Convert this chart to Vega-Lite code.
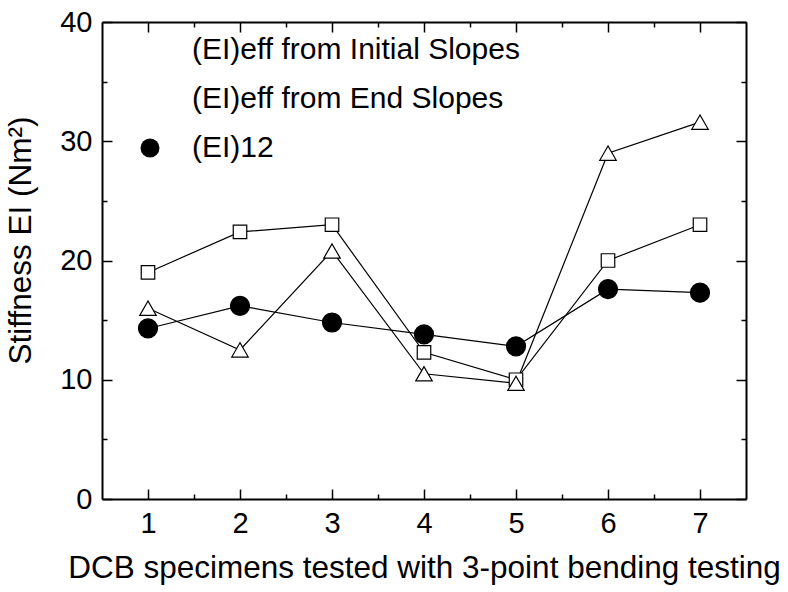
{
  "$schema": "https://vega.github.io/schema/vega-lite/v6.json",
  "width": 644,
  "height": 477,
  "autosize": {"type": "none"},
  "padding": {"left": 102, "top": 22, "right": 42, "bottom": 93},
  "background": "white",
  "config": {
    "view": {"stroke": null},
    "font": "Liberation Sans",
    "axis": {
      "grid": false,
      "domainColor": "black",
      "domainWidth": 2,
      "tickColor": "black",
      "tickWidth": 1.5,
      "tickSize": -10,
      "labelFont": "Liberation Sans",
      "labelFontSize": 29,
      "labelColor": "black",
      "labelPadding": 20,
      "titleFont": "Liberation Sans",
      "titleFontSize": 31.5,
      "titleFontWeight": "normal",
      "titleColor": "black"
    },
    "legend": {
      "title": null,
      "orient": "none",
      "legendX": 33,
      "legendY": 13,
      "padding": 0,
      "symbolStrokeColor": "black",
      "symbolStrokeWidth": 1.2,
      "labelFont": "Liberation Sans",
      "labelFontSize": 30,
      "labelColor": "black",
      "labelLimit": 0,
      "labelOffset": 27,
      "rowPadding": 19
    }
  },
  "data": {
    "values": [
      {"specimen": 1, "stiffness": 19.0, "series": "(EI)eff from Initial Slopes"},
      {"specimen": 2, "stiffness": 22.4, "series": "(EI)eff from Initial Slopes"},
      {"specimen": 3, "stiffness": 23.0, "series": "(EI)eff from Initial Slopes"},
      {"specimen": 4, "stiffness": 12.3, "series": "(EI)eff from Initial Slopes"},
      {"specimen": 5, "stiffness": 10.0, "series": "(EI)eff from Initial Slopes"},
      {"specimen": 6, "stiffness": 20.0, "series": "(EI)eff from Initial Slopes"},
      {"specimen": 7, "stiffness": 23.0, "series": "(EI)eff from Initial Slopes"},
      {"specimen": 1, "stiffness": 16.0, "series": "(EI)eff from End Slopes"},
      {"specimen": 2, "stiffness": 12.5, "series": "(EI)eff from End Slopes"},
      {"specimen": 3, "stiffness": 20.8, "series": "(EI)eff from End Slopes"},
      {"specimen": 4, "stiffness": 10.5, "series": "(EI)eff from End Slopes"},
      {"specimen": 5, "stiffness": 9.7, "series": "(EI)eff from End Slopes"},
      {"specimen": 6, "stiffness": 29.0, "series": "(EI)eff from End Slopes"},
      {"specimen": 7, "stiffness": 31.6, "series": "(EI)eff from End Slopes"},
      {"specimen": 1, "stiffness": 14.3, "series": "(EI)12"},
      {"specimen": 2, "stiffness": 16.2, "series": "(EI)12"},
      {"specimen": 3, "stiffness": 14.8, "series": "(EI)12"},
      {"specimen": 4, "stiffness": 13.8, "series": "(EI)12"},
      {"specimen": 5, "stiffness": 12.8, "series": "(EI)12"},
      {"specimen": 6, "stiffness": 17.6, "series": "(EI)12"},
      {"specimen": 7, "stiffness": 17.3, "series": "(EI)12"}
    ]
  },
  "layer": [
    {
      "mark": {"type": "line", "color": "black", "strokeWidth": 1.2},
      "encoding": {
        "x": {
          "field": "specimen",
          "type": "quantitative",
          "scale": {"domain": [0.5, 7.5], "nice": false, "zero": false},
          "axis": {
            "orient": "bottom",
            "title": "DCB specimens tested with 3-point bending testing",
            "titlePadding": 14,
            "values": [1, 1.5, 2, 2.5, 3, 3.5, 4, 4.5, 5, 5.5, 6, 6.5, 7],
            "labelExpr": "datum.value % 1 === 0 ? format(datum.value, 'd') : ''",
            "tickDash": {"condition": {"test": "datum.value % 1 !== 0", "value": [5, 20]}, "value": []}
          }
        },
        "y": {
          "field": "stiffness",
          "type": "quantitative",
          "scale": {"domain": [0, 40], "nice": false, "zero": true},
          "axis": {
            "orient": "left",
            "title": "Stiffness EI (Nm²)",
            "titlePadding": 22,
            "titleY": 218,
            "values": [0, 5, 10, 15, 20, 25, 30, 35, 40],
            "labelExpr": "datum.value % 10 === 0 ? format(datum.value, 'd') : ''",
            "tickDash": {"condition": {"test": "datum.value % 10 !== 0", "value": [5, 20]}, "value": []}
          }
        },
        "detail": {"field": "series"}
      }
    },
    {
      "mark": {"type": "point", "filled": true, "stroke": "black", "strokeWidth": 1.2, "opacity": 1},
      "encoding": {
        "x": {
          "field": "specimen",
          "type": "quantitative",
          "scale": {"domain": [0.5, 7.5], "nice": false, "zero": false},
          "axis": {
            "orient": "top",
            "title": null,
            "labels": false,
            "values": [1, 1.5, 2, 2.5, 3, 3.5, 4, 4.5, 5, 5.5, 6, 6.5, 7],
            "tickDash": {"condition": {"test": "datum.value % 1 !== 0", "value": [5, 20]}, "value": []}
          }
        },
        "y": {
          "field": "stiffness",
          "type": "quantitative",
          "scale": {"domain": [0, 40], "nice": false, "zero": true},
          "axis": {
            "orient": "right",
            "title": null,
            "labels": false,
            "values": [0, 5, 10, 15, 20, 25, 30, 35, 40],
            "tickDash": {"condition": {"test": "datum.value % 10 !== 0", "value": [5, 20]}, "value": []}
          }
        },
        "shape": {
          "field": "series",
          "type": "nominal",
          "scale": {
            "domain": ["(EI)eff from Initial Slopes", "(EI)eff from End Slopes", "(EI)12"],
            "range": ["square", "triangle-up", "circle"]
          }
        },
        "fill": {
          "field": "series",
          "type": "nominal",
          "scale": {
            "domain": ["(EI)eff from Initial Slopes", "(EI)eff from End Slopes", "(EI)12"],
            "range": ["white", "white", "black"]
          }
        },
        "size": {
          "field": "series",
          "type": "nominal",
          "scale": {
            "domain": ["(EI)eff from Initial Slopes", "(EI)eff from End Slopes", "(EI)12"],
            "range": [182, 361, 200]
          }
        }
      }
    }
  ],
  "resolve": {"axis": {"x": "independent", "y": "independent"}}
}
